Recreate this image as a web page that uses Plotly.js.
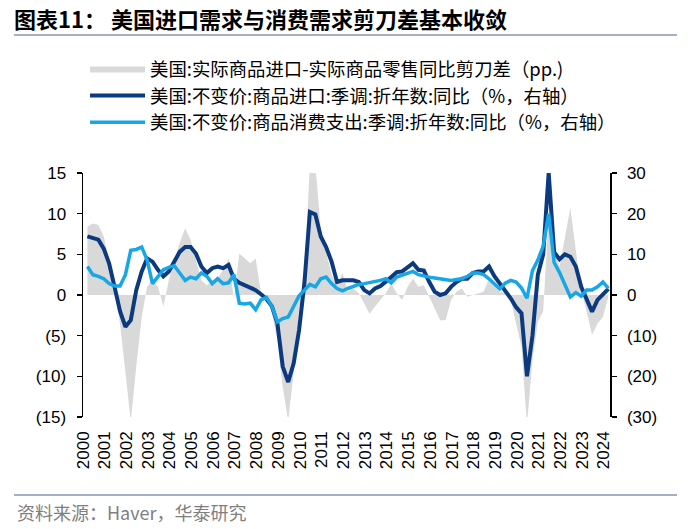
<!DOCTYPE html>
<html>
<head>
<meta charset="utf-8">
<script src="https://cdn.plot.ly/plotly-3.0.1.min.js"></script>
<style>html,body{margin:0;padding:0;background:#fff;}</style>
</head>
<body>
<div id="chart" style="width:700px;height:529px;"></div>
<script>
// Quarterly observations (quarter-end months), 2000Q1 .. 2024Q1
const quarters = [];
for (let y = 2000; y <= 2024; y++) {
  for (const m of ['03', '06', '09', '12']) {
    if (y === 2024 && m !== '03') break;
    quarters.push(y + '-' + m + '-15');
  }
}

// 美国:实际商品进口-实际商品零售同比剪刀差 (pp., left axis)
const gapPP = [
  8.4, 8.8, 8.6, 7.2,
  4.3, 1.0, -3.5, -10.0,
  -15.5, -8.8, -2.7, 1.0,
  1.8, 1.0, -1.4, 1.8,
  4.3, 6.4, 8.2, 6.8,
  4.3, 1.8, 1.2, 1.8,
  2.0, 3.1, 4.5, -0.5,
  5.1, 4.5, 3.9, 4.5,
  0.2, -0.4, -2.3, -5.5,
  -11.3, -15.5, -9.6, -1.8,
  2.5, 16.0, 16.0, 8.0,
  5.1, 2.5, 1.2, 2.7,
  0.4, 0.8, 0.2, -1.0,
  -2.3, -1.4, -0.6, 0.2,
  1.4, 0.2, -0.6, 1.0,
  2.0, 1.0, 1.2, -0.2,
  -1.8, -3.1, -3.1, -0.6,
  0.4, 0.8, -0.2, 0.0,
  0.2, 0.4, 2.0, 1.2,
  0.4, 0.2, -0.6, -3.5,
  -6.4, -16.0, -8.0, -3.3,
  -2.0, 10.0, 6.0, 3.5,
  7.0, 10.7, 5.5, 0.5,
  -2.0, -4.9, -3.5, -2.7,
  -0.2
];

// 美国:不变价:商品进口:季调:折年数:同比 (%, right axis)
const importsYoY = [
  14.4, 14.0, 13.6, 11.4,
  7.8, 2.0, -4.0, -7.8,
  -6.2, 1.2, 5.8, 9.0,
  8.2, 6.2, 4.6, 5.8,
  8.2, 10.6, 11.8, 11.8,
  10.2, 7.0, 5.4, 6.6,
  7.0, 6.6, 7.4, 4.0,
  3.0, 2.4, 1.6, 1.2,
  0.2, -1.0, -2.8, -7.0,
  -17.6, -21.4, -16.8, -8.6,
  3.0, 20.4, 19.8, 14.4,
  11.8, 8.2, 3.2, 3.6,
  3.6, 3.6, 3.2, 1.2,
  0.4, 1.6, 2.2, 3.2,
  4.4, 5.6, 5.8, 6.8,
  7.8, 6.2, 6.0, 3.2,
  0.8, 0.0, 0.4, 2.0,
  3.2, 4.0, 4.0, 5.4,
  5.8, 5.8, 7.0, 4.6,
  2.8, 1.2, -0.8, -3.0,
  -4.5, -20.0, -10.0, 5.0,
  10.0, 30.0, 10.5, 8.8,
  10.0, 9.4, 7.0, 2.0,
  -1.0, -4.1, -1.2, 0.0,
  1.5
];

// 美国:不变价:商品消费支出:季调:折年数:同比 (%, right axis)
const consumptionYoY = [
  7.0, 5.0, 4.6, 4.0,
  2.8, 2.2, 2.2, 5.0,
  11.0, 11.2, 11.8, 8.6,
  2.8, 4.6, 6.2, 6.8,
  7.2, 5.4, 3.6, 4.4,
  4.0, 5.4, 4.6, 2.8,
  4.0, 2.8, 3.0, 5.0,
  -2.0, -2.2, -2.0, -3.6,
  -1.2, -0.6, -2.8, -6.6,
  -5.8, -5.4, -2.8, -0.2,
  1.2, 2.6, 2.0, 4.0,
  4.4, 2.8, 1.6, 1.0,
  1.6, 2.2, 2.6, 2.8,
  3.0, 3.2, 3.6, 4.0,
  3.0, 4.4, 4.8, 5.2,
  5.8, 5.0, 4.6, 4.4,
  4.2, 4.0, 3.6, 3.6,
  3.8, 4.0, 4.6, 5.4,
  5.4, 5.0, 4.0, 2.8,
  1.5, 2.9, 3.6, 3.2,
  1.7, -0.8, 6.0, 8.6,
  12.0, 20.0, 8.0, 5.5,
  2.5, -0.5, 0.6, -0.3,
  1.2, 1.2, 2.0, 3.2,
  1.6
];

const seriesNames = [
  '美国:实际商品进口-实际商品零售同比剪刀差（pp.)',
  '美国:不变价:商品进口:季调:折年数:同比（%，右轴）',
  '美国:不变价:商品消费支出:季调:折年数:同比（%，右轴）'
];

const leftTickVals = [-15, -10, -5, 0, 5, 10, 15];
const leftTickText = ['(15)', '(10)', '(5)', '0', '5', '10', '15'];
const rightTickVals = [-30, -20, -10, 0, 10, 20, 30];
const rightTickText = ['(30)', '(20)', '(10)', '0', '10', '20', '30'];

const titleText = '图表11：\u00a0美国进口需求与消费需求剪刀差基本收敛';
const sourceText = '资料来源：Haver，华泰研究';

const FONT = 'Liberation Sans, Arial, Noto Sans CJK SC, sans-serif';
const CJK = 'Noto Sans CJK SC, Liberation Sans, sans-serif';
const xRange = ['2000-01-01', '2024-04-12'];

// plot area in pixels: left 83, right 610, top 173, bottom 417
const L = 83, R = 610, T = 173, B = 417;
const px2x = p => (p - L) / (R - L);
const px2y = p => (B - p) / (B - T);

const traces = [
  {
    x: quarters, y: gapPP, name: seriesNames[0], type: 'scatter', mode: 'lines',
    fill: 'tozeroy', fillcolor: '#d9d9d9', line: {width: 0, color: '#d9d9d9'},
    yaxis: 'y', xaxis: 'x', legendgroup: 'a'
  },
  {
    x: quarters, y: importsYoY, name: seriesNames[1], type: 'scatter', mode: 'lines',
    line: {width: 4, color: '#0b3a7e'}, yaxis: 'y2', xaxis: 'x', legendgroup: 'b'
  },
  {
    x: quarters, y: consumptionYoY, name: seriesNames[2], type: 'scatter', mode: 'lines',
    line: {width: 3.5, color: '#17a6e6'}, yaxis: 'y2', xaxis: 'x', legendgroup: 'c'
  }
];

const layout = {
  width: 700, height: 529,
  margin: {l: L, r: 700 - R, t: T, b: 529 - B, pad: 0},
  paper_bgcolor: '#fff', plot_bgcolor: '#fff',
  font: {family: FONT, size: 17, color: '#000'},
  title: {
    text: '<b>' + titleText + '</b>',
    xref: 'container', yref: 'container',
    x: 14 / 700, xanchor: 'left', y: 1 - 20 / 529, yanchor: 'middle',
    font: {family: CJK, size: 22, color: '#000'}
  },
  showlegend: true,
  legend: {
    x: px2x(85), xanchor: 'left', y: px2y(50), yanchor: 'top',
    font: {family: CJK, size: 18.4, color: '#000'},
    bgcolor: 'rgba(0,0,0,0)', itemwidth: 55, traceorder: 'grouped', tracegroupgap: 0
  },
  xaxis: {
    type: 'date', range: xRange, tickformat: '%Y', dtick: 'M12', tick0: '2000-01-01',
    tickangle: -90, ticks: '', showgrid: false, zeroline: false, showline: false,
    ticklabelstandoff: 10,
    tickfont: {family: FONT, size: 17, color: '#000'}
  },
  xaxis2: {
    type: 'date', range: xRange, overlaying: 'x', anchor: 'free', position: 0.5,
    dtick: 'M12', tick0: '2000-01-01', ticks: 'outside', ticklen: 5, tickwidth: 1.5,
    tickcolor: '#000', showticklabels: false, showline: true, linecolor: '#000',
    linewidth: 1.5, showgrid: false, zeroline: false
  },
  yaxis: {
    range: [-15, 15], tickvals: leftTickVals, ticktext: leftTickText,
    ticks: 'outside', ticklen: 5, tickwidth: 1.5, tickcolor: '#000',
    showline: true, linecolor: '#000', linewidth: 1.5, ticklabelstandoff: 7,
    showgrid: false, zeroline: false, tickfont: {family: FONT, size: 17, color: '#000'}
  },
  yaxis2: {
    range: [-30, 30], overlaying: 'y', side: 'right', anchor: 'x',
    tickvals: rightTickVals, ticktext: rightTickText,
    ticks: 'outside', ticklen: 5, tickwidth: 1.5, tickcolor: '#000',
    showline: true, linecolor: '#000', linewidth: 1.5, ticklabelstandoff: 7,
    showgrid: false, zeroline: false, tickfont: {family: FONT, size: 17, color: '#000'}
  },
  shapes: [
    {type: 'line', xref: 'paper', yref: 'paper', x0: px2x(14), x1: px2x(677),
     y0: px2y(35), y1: px2y(35), line: {color: '#8497b0', width: 1.5}},
    {type: 'line', xref: 'paper', yref: 'paper', x0: px2x(14), x1: px2x(677),
     y0: px2y(495), y1: px2y(495), line: {color: '#8497b0', width: 1.5}}
  ],
  annotations: [
    {text: sourceText, xref: 'paper', yref: 'paper', x: px2x(15), y: px2y(512),
     xanchor: 'left', yanchor: 'middle', showarrow: false,
     font: {family: CJK, size: 18, color: '#7f7f7f'}}
  ]
};

Plotly.newPlot('chart', traces, layout, {displayModeBar: false, staticPlot: true});
</script>
</body>
</html>
